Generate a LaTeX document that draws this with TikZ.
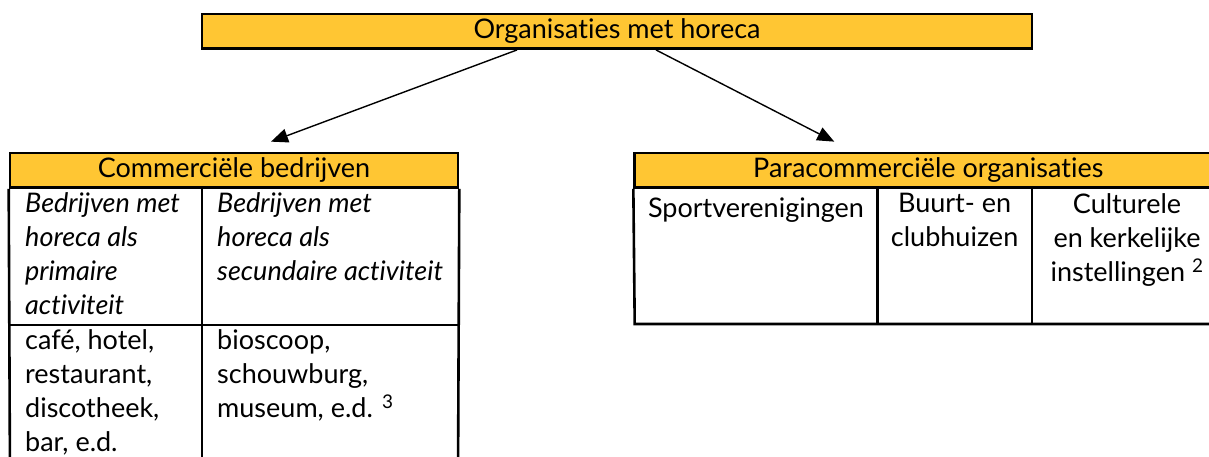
\documentclass[tikz,border=0pt]{standalone}
\usepackage{fontspec}
\setmainfont{Lato}[Ligatures=NoCommon]
\usetikzlibrary{arrows.meta}
\definecolor{goud}{RGB}{255,198,51}
\tikzset{
  kop/.style={draw, line width=2.6pt, fill=goud, inner sep=0pt, minimum height=34.7pt},
  cel/.style={anchor=north west, inner sep=0pt, align=left, execute at begin node=\strut},
  celm/.style={anchor=north, inner sep=0pt, align=center, execute at begin node=\strut},
  pijl/.style={-{Triangle[length=17pt,width=14pt]}, line width=1.4pt},
  rooster/.style={line width=2.6pt},
}
\begin{document}
\begin{tikzpicture}[x=1pt,y=-1pt,font=\fontsize{27}{34}\selectfont]
\useasboundingbox (0,0) rectangle (1209,457);
\clip (0,0) rectangle (1209,457);
% bovenste vak
\node[kop, minimum width=830pt] (org) at (617,31.3) {Organisaties met horeca};
% commerciele bedrijven
\node[kop, minimum width=448pt] (com) at (234,170.3) {Commerciële bedrijven};
\draw[rooster] (com.south west) -- (10,480) (com.south east) -- (458,480);
\draw[rooster] (202,187.7) -- (202,480);
\draw[rooster] (10,325) -- (458,325);
\node[cel] (prim) at (25,192.5) {\itshape Bedrijven met\\\itshape horeca als\\\itshape primaire\\\itshape activiteit};
\node[cel] (sec) at (217,192.5) {\itshape Bedrijven met\\\itshape horeca als\\\itshape secundaire activiteit};
\node[cel] (cafe) at (25,329.5) {café, hotel,\\restaurant,\\discotheek,\\bar, e.d.};
\node[cel] (bios) at (217,329.5) {bioscoop,\\schouwburg,\\museum, e.d. \textsuperscript{3}};
% paracommerciele organisaties
\node[kop, minimum width=587.3pt] (para) at (928.3,170.3) {Paracommerciële organisaties};
\draw[rooster] (para.south west) -- (634.7,324) -- (1230,324);
\draw[rooster] (877.3,187.7) -- (877.3,324) (1032,187.7) -- (1032,324);
\node[celm] (sport) at (756,193) {Sportverenigingen};
\node[celm] (buurt) at (954.6,193) {Buurt- en\\clubhuizen};
\node[celm] (cult) at (1127,193) {Culturele\\en kerkelijke\\instellingen \textsuperscript{2}};
% pijlen
\draw[pijl] ([xshift=-100pt]org.south) -- ([xshift=37pt,yshift=10pt]com.north);
\draw[pijl] ([xshift=39pt]org.south) -- ([xshift=-94pt,yshift=10pt]para.north);
\end{tikzpicture}
\end{document}
